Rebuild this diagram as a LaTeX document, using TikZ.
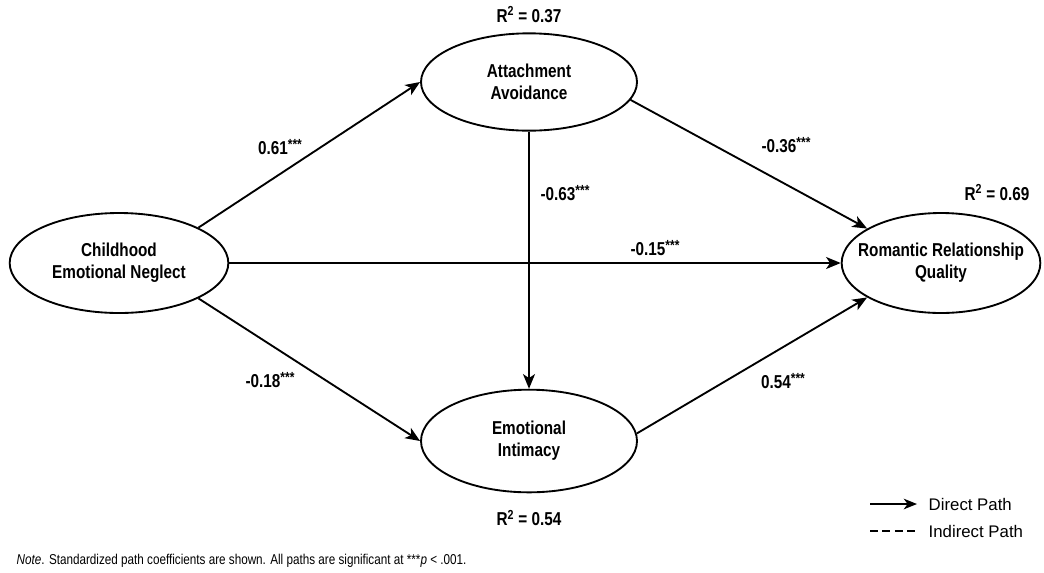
\documentclass[tikz,border=0pt]{standalone}
\usepackage{fontspec}
\setmainfont{Liberation Sans}
\newfontfamily\narrowfont[FakeStretch=0.82]{Liberation Sans}
\usepackage{tikz}
\usetikzlibrary{shapes.geometric,arrows.meta}
\newcommand{\sigstars}{\raisebox{0.3em}{\fontsize{11}{11}\selectfont ***}}

\begin{document}
\begin{tikzpicture}[x=0.75pt,y=-0.75pt,
		latent/.style={draw,ellipse,line width=1.4pt,inner sep=0pt,align=center,
			font=\narrowfont\bfseries\fontsize{14}{16.5}\selectfont},
		direct/.style={line width=1.4pt,-{Stealth[length=11pt,width=9pt,inset=3pt]}},
		coef/.style={font=\narrowfont\bfseries\fontsize{14}{16}\selectfont},
		legend/.style={anchor=west,font=\fontsize{12.6}{14}\selectfont}]
		\useasboundingbox (0,0) rectangle (1044,572);
		\node[latent,minimum width=164pt,minimum height=75pt] (cen) at (119,263) {Childhood\\Emotional Neglect};
		\node[latent,minimum width=162pt,minimum height=73pt] (aa) at (529,82) {Attachment\\Avoidance};
		\node[latent,minimum width=162pt,minimum height=77pt] (ei) at (529,441) {Emotional\\Intimacy};
		\node[latent,inner xsep=-10pt,minimum width=149pt,minimum height=75pt] (rrq) at (941,263) {Romantic Relationship\\Quality};
		\draw[direct] (cen.24) -- (aa.west);
		\draw[direct] (cen.-24) -- (ei.west);
		\draw[direct] (cen.east) -- (rrq.west);
		\draw[direct] (aa.-10) -- (rrq.155);
		\draw[direct] (ei.4) -- (rrq.205);
		\draw[direct] (aa.south) -- (ei.north);
		\node[coef] (c1) at (280,147) {0.61\sigstars};
		\node[coef] (c2) at (565,193) {-0.63\sigstars};
		\node[coef] (c3) at (786,145) {-0.36\sigstars};
		\node[coef] (c4) at (655,248) {-0.15\sigstars};
		\node[coef] (c5) at (270,380) {-0.18\sigstars};
		\node[coef] (c6) at (783,381) {0.54\sigstars};
		\node[coef] (r1) at (529,15) {R\textsuperscript{2} = 0.37};
		\node[coef] (r2) at (997,193) {R\textsuperscript{2} = 0.69};
		\node[coef] (r3) at (529,518) {R\textsuperscript{2} = 0.54};
		\coordinate (d1) at (870,504);
		\coordinate (d2) at (917,504);
		\coordinate (i1) at (870,531);
		\coordinate (i2) at (915,531);
		\draw[direct,line width=1.1pt,-{Stealth[length=10pt,width=8pt,inset=3pt]}] (d1) -- (d2);
		\draw[line width=1.2pt,dash pattern=on 6pt off 3.3pt] (i1) -- (i2);
		\node[legend] (dp) at (924,504) {Direct Path};
		\node[legend] (ip) at (924,531) {Indirect Path};
		\node[anchor=west,font=\narrowfont\fontsize{10.7}{12}\selectfont] (note) at (12,561)
			{\textit{Note}. Standardized path coefficients are shown. All paths are significant at ***\textit{p} < .001.};
	\end{tikzpicture}
\end{document}
